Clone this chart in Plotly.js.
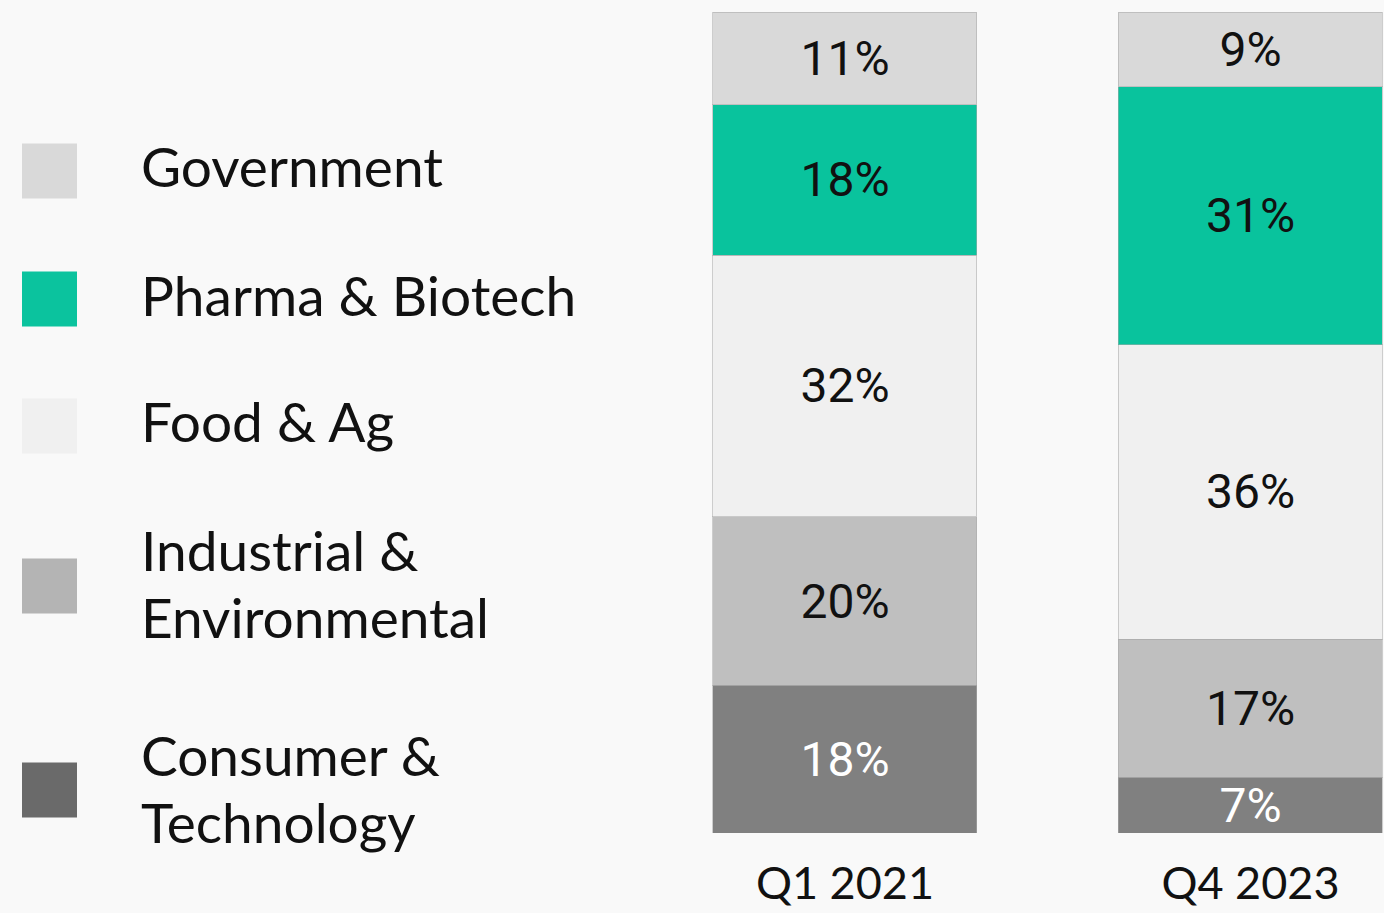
<!DOCTYPE html>
<html>
<head>
<meta charset="utf-8">
<script src="https://cdn.plot.ly/plotly-3.0.1.min.js"></script>
<style>
html,body{margin:0;padding:0;background:#f9f9f9;}
#chart{width:1384px;height:913px;}
</style>
</head>
<body>
<div id="chart"></div>
<script>
// Data
const categories = ['Q1 2021', 'Q4 2023'];
const seriesNames = ['Consumer & Technology', 'Industrial & Environmental', 'Food & Ag', 'Pharma & Biotech', 'Government'];
const legendLines = [['Consumer &', 'Technology'], ['Industrial &', 'Environmental'], ['Food & Ag'], ['Pharma & Biotech'], ['Government']];
const consumerTech = [18.0, 6.8];
const industrialEnv = [20.5, 16.8];
const foodAg = [31.9, 35.9];
const pharmaBiotech = [18.3, 31.4];
const government = [11.3, 9.1];
const consumerTechText = ['18%', '7%'];
const industrialEnvText = ['20%', '17%'];
const foodAgText = ['32%', '36%'];
const pharmaBiotechText = ['18%', '31%'];
const governmentText = ['11%', '9%'];

// Styles
const barColors = ['#808080', '#bfbfbf', '#f0f0f0', '#09c39d', '#d9d9d9'];
const legendColors = ['#6a6a6a', '#b4b4b4', '#f0f0f0', '#0bc39e', '#d9d9d9'];
const textColors = ['#ffffff', '#111111', '#111111', '#111111', '#111111'];

const seriesValues = [consumerTech, industrialEnv, foodAg, pharmaBiotech, government];
const seriesText = [consumerTechText, industrialEnvText, foodAgText, pharmaBiotechText, governmentText];

const traces = seriesNames.map((name, i) => ({
  type: 'bar',
  name: name,
  x: categories,
  y: seriesValues[i],
  text: seriesText[i],
  textposition: 'inside',
  insidetextanchor: 'middle',
  textangle: 0,
  textfont: {family: 'Roboto, sans-serif', size: 48, color: textColors[i]},
  marker: {color: barColors[i], line: {color: 'rgba(170,170,170,0.55)', width: 1}},
  width: 0.651,
  hoverinfo: 'skip',
  showlegend: false
}));

// Legend drawn as shapes + annotations (paper coords)
const legendY = [790, 586, 426, 299, 171]; // pixel centers of swatches
const legendTextY = [[755, 822], [550, 617], [421], [295], [166]];
const H = 913, W = 1384, mT = 12, mB = 80;
const plotH = H - mT - mB;
function py(pix) { return (H - mB - pix) / plotH; }

const shapes = [];
const annotations = [];
seriesNames.forEach((n, i) => {
  shapes.push({
    type: 'rect', xref: 'paper', yref: 'paper',
    x0: 22 / W, x1: 77 / W,
    y0: py(legendY[i] + 27.5), y1: py(legendY[i] - 27.5),
    fillcolor: legendColors[i], line: {width: 0}
  });
  legendLines[i].forEach((line, j) => {
    annotations.push({
      xref: 'paper', yref: 'paper', x: 139 / W, y: py(legendTextY[i][j]),
      xanchor: 'left', yanchor: 'middle', align: 'left',
      text: line, showarrow: false,
      font: {family: 'Lato, sans-serif', size: 55, color: '#111111'}
    });
  });
});

const layout = {
  width: W, height: H,
  paper_bgcolor: '#f9f9f9',
  plot_bgcolor: 'rgba(0,0,0,0)',
  barmode: 'stack',
  margin: {l: 0, r: 0, t: mT, b: mB, pad: 0},
  showlegend: false,
  uniformtext: {minsize: 48, mode: 'show'},
  xaxis: {
    type: 'category',
    range: [-2.0838, 1.3293],
    showgrid: false, zeroline: false, showline: false,
    ticks: '', ticklabelstandoff: 20,
    tickfont: {family: 'Lato, sans-serif', size: 45, color: '#111111'},
    fixedrange: true
  },
  yaxis: {
    range: [0, 100],
    showgrid: false, zeroline: false, showline: false,
    showticklabels: false, ticks: '',
    fixedrange: true
  },
  shapes: shapes,
  annotations: annotations
};

Plotly.newPlot('chart', traces, layout, {displayModeBar: false, staticPlot: true});
</script>
</body>
</html>
